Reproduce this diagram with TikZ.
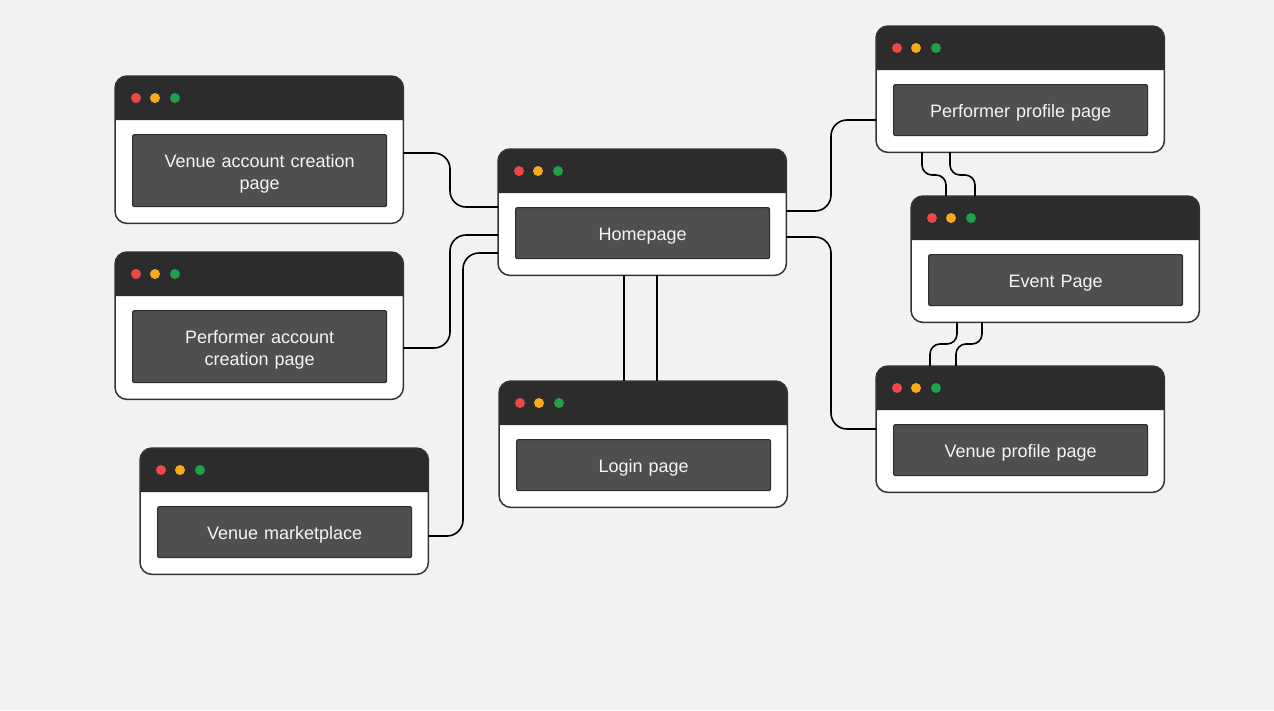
\documentclass[tikz,border=0pt]{standalone}
\usepackage{fontspec}
\setmainfont{Liberation Sans}
\definecolor{bgc}{HTML}{F2F2F2}
\definecolor{barc}{HTML}{2C2C2C}
\definecolor{inc}{HTML}{4F4F4F}
\definecolor{edgec}{HTML}{333333}
\definecolor{dotr}{HTML}{F04848}
\definecolor{doto}{HTML}{F8AC1C}
\definecolor{dotg}{HTML}{22A045}
\definecolor{txtc}{HTML}{F5F5F5}
\tikzset{
  winbox/.style={rectangle, minimum width=288pt, inner sep=0pt, anchor=north west, fill=white, rounded corners=12pt},
  winedge/.style={draw=edgec, line width=1.5pt, rounded corners=12pt},
  inbox/.style={rectangle, minimum width=254pt, inner sep=0pt, anchor=north west, fill=inc, draw=barc, line width=1.2pt, rounded corners=2pt},
  intext/.style={text=txtc, align=center, text width=240pt, inner sep=0pt, font=\fontsize{18}{22}\selectfont, yshift=-3pt},
  conn/.style={draw=black, line width=1.6pt, rounded corners=16pt},
  sconn/.style={draw=black, line width=1.6pt, rounded corners=10pt}
}
\newcommand\browserwin[6]{%
  \node[winbox, minimum height=#4pt] (#1) at (#2,#3) {};
  \fill[barc] (#2,#3+44) [rounded corners=12pt] -- (#2,#3) -- (#2+288,#3) [sharp corners] -- (#2+288,#3+44) -- cycle;
  \draw[winedge] (#1.north west) rectangle (#1.south east);
  \fill[dotr] (#2+21,#3+22) circle (5pt);
  \fill[doto] (#2+40,#3+22) circle (5pt);
  \fill[dotg] (#2+60,#3+22) circle (5pt);
  \node[inbox, minimum height=#5pt] (#1-l) at (#2+17,#3+58) {};
  \node[intext] (#1-t) at (#1-l.center) {#6};
}
\begin{document}
\begin{tikzpicture}[x=1pt,y=-1pt]
\fill[bgc] (0,0) rectangle (1274,710);
\useasboundingbox (0,0) rectangle (1274,710);
% windows
\browserwin{va}{115}{76}{147}{72}{Venue account creation\\page}
\browserwin{pa}{115}{252}{147}{72}{Performer account\\creation page}
\browserwin{vm}{140}{448}{126}{51}{Venue marketplace}
\browserwin{home}{498}{149}{126}{51}{Homepage}
\browserwin{login}{499}{381}{126}{51}{Login page}
\browserwin{pp}{876}{26}{126}{51}{Performer profile page}
\browserwin{ev}{911}{196}{126}{51}{Event Page}
\browserwin{vp}{876}{366}{126}{51}{Venue profile page}
% connectors
\draw[conn] (va.east |- 0,153) -- (450,153) -- (450,207) -- (home.west |- 0,207);
\draw[conn] (pa.east |- 0,348) -- (450,348) -- (450,235) -- (home.west |- 0,235);
\draw[conn] (vm.east |- 0,536) -- (463,536) -- (463,253) -- (home.west |- 0,253);
\draw[conn] (home.east |- 0,211) -- (831,211) -- (831,120) -- (pp.west |- 0,120);
\draw[conn] (home.east |- 0,237) -- (831,237) -- (831,429) -- (vp.west |- 0,429);
\draw[conn] (home.south -| 624,0) -- (login.north -| 624,0);
\draw[conn] (home.south -| 657,0) -- (login.north -| 657,0);
\draw[sconn] (pp.south -| 922,0) -- (922,175) -- (946,175) -- (ev.north -| 946,0);
\draw[sconn] (pp.south -| 950,0) -- (950,175) -- (975,175) -- (ev.north -| 975,0);
\draw[sconn] (ev.south -| 957,0) -- (957,344) -- (930,344) -- (vp.north -| 930,0);
\draw[sconn] (ev.south -| 982,0) -- (982,344) -- (956,344) -- (vp.north -| 956,0);
\end{tikzpicture}
\end{document}
